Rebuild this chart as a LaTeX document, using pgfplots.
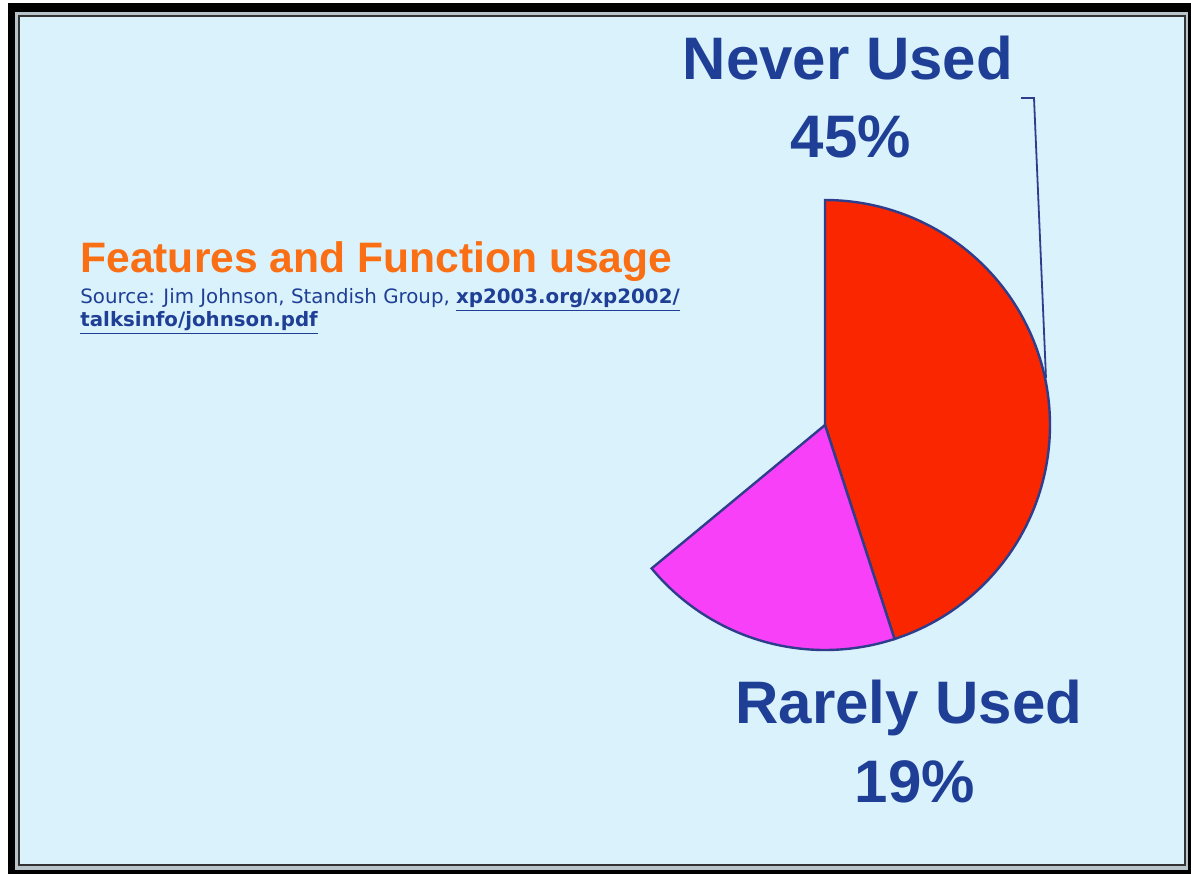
\documentclass[border=0pt]{standalone}
\usepackage{pgfplots}
\pgfplotsset{compat=1.18}
\usepackage{pgfplotstable}
\usepackage{fontspec}
\setmainfont{Liberation Sans}
\newfontfamily\srcfont{DejaVu Sans}
\definecolor{bgblue}{HTML}{DAF2FC}
\definecolor{pieRed}{HTML}{F92600}
\definecolor{piePink}{HTML}{F840F8}
\definecolor{edgeBlue}{HTML}{2E3D8C}
\definecolor{navy}{HTML}{1F3F96}
\definecolor{orangeT}{HTML}{FA6E14}
\definecolor{frameGray}{HTML}{B8C4CA}

\pgfplotstableread{
label value
Never 45
Rarely 19
}\piedata

\begin{document}%
\begin{tikzpicture}
\pgfplotstablegetelem{0}{value}\of\piedata \let\va\pgfplotsretval
\pgfplotstablegetelem{1}{value}\of\piedata \let\vb\pgfplotsretval
\pgfmathsetmacro{\eA}{90-3.6*\va}
\pgfmathsetmacro{\eB}{\eA-3.6*\vb}
\begin{axis}[
  width=595.5pt, height=437pt, scale only axis,
  xmin=0, xmax=1191, ymin=0, ymax=874, y dir=reverse,
  hide axis, clip=false, axis line style={draw=none},
]
\coordinate (bl) at (axis cs:0,874);
\coordinate (tr) at (axis cs:1191,0);
% page and frame
\fill[white] (axis cs:0,0) rectangle (axis cs:1191,874);
\fill[black] (axis cs:8,3) rectangle (axis cs:1191,874);
\fill[frameGray] (axis cs:15,12) rectangle (axis cs:1188,870);
\filldraw[fill=bgblue, draw=black!80, line width=0.8pt] (axis cs:19,16) rectangle (axis cs:1185,865);

% pie slices
\addplot[fill=pieRed, draw=edgeBlue, line width=1.2pt, domain=\eA:90, samples=120, variable=\t]
  ({825+225*cos(\t)},{425-225*sin(\t)}) -- (axis cs:825,425) -- cycle;
\addplot[fill=piePink, draw=edgeBlue, line width=1.2pt, domain=\eB:\eA, samples=80, variable=\t]
  ({825+225*cos(\t)},{425-225*sin(\t)}) -- (axis cs:825,425) -- cycle;

% leader line
\draw[edgeBlue, line width=0.9pt] (axis cs:1021,98) -- (axis cs:1034,98) -- (axis cs:1046,378);

% labels
\node[anchor=base, text=navy, font=\fontsize{30}{36}\selectfont\bfseries, inner sep=0pt] at (axis cs:848,79) {Never Used};
\node[anchor=base, text=navy, font=\fontsize{30}{36}\selectfont\bfseries, inner sep=0pt] at (axis cs:851,157) {45\%};
\node[anchor=base, text=navy, font=\fontsize{30}{36}\selectfont\bfseries, inner sep=0pt] at (axis cs:909,723) {Rarely Used};
\node[anchor=base, text=navy, font=\fontsize{30}{36}\selectfont\bfseries, inner sep=0pt] at (axis cs:915,802) {19\%};

% title and source
\node[anchor=base west, text=orangeT, font=\fontsize{21.3}{25}\selectfont\bfseries, inner sep=0pt] at (axis cs:80,272) {Features and Function usage};
\node[anchor=base west, text=navy, font=\srcfont\fontsize{9.9}{12}\selectfont, inner sep=0pt] at (axis cs:80,303) {Source: Jim Johnson, Standish Group, \underline{\textbf{xp2003.org/xp2002/}}};
\node[anchor=base west, text=navy, font=\srcfont\fontsize{9.9}{12}\selectfont, inner sep=0pt] at (axis cs:80,326) {\underline{\textbf{talksinfo/johnson.pdf}}};
\end{axis}
\pgfresetboundingbox
\path[use as bounding box] (bl) rectangle (tr);
\end{tikzpicture}%
\end{document}
